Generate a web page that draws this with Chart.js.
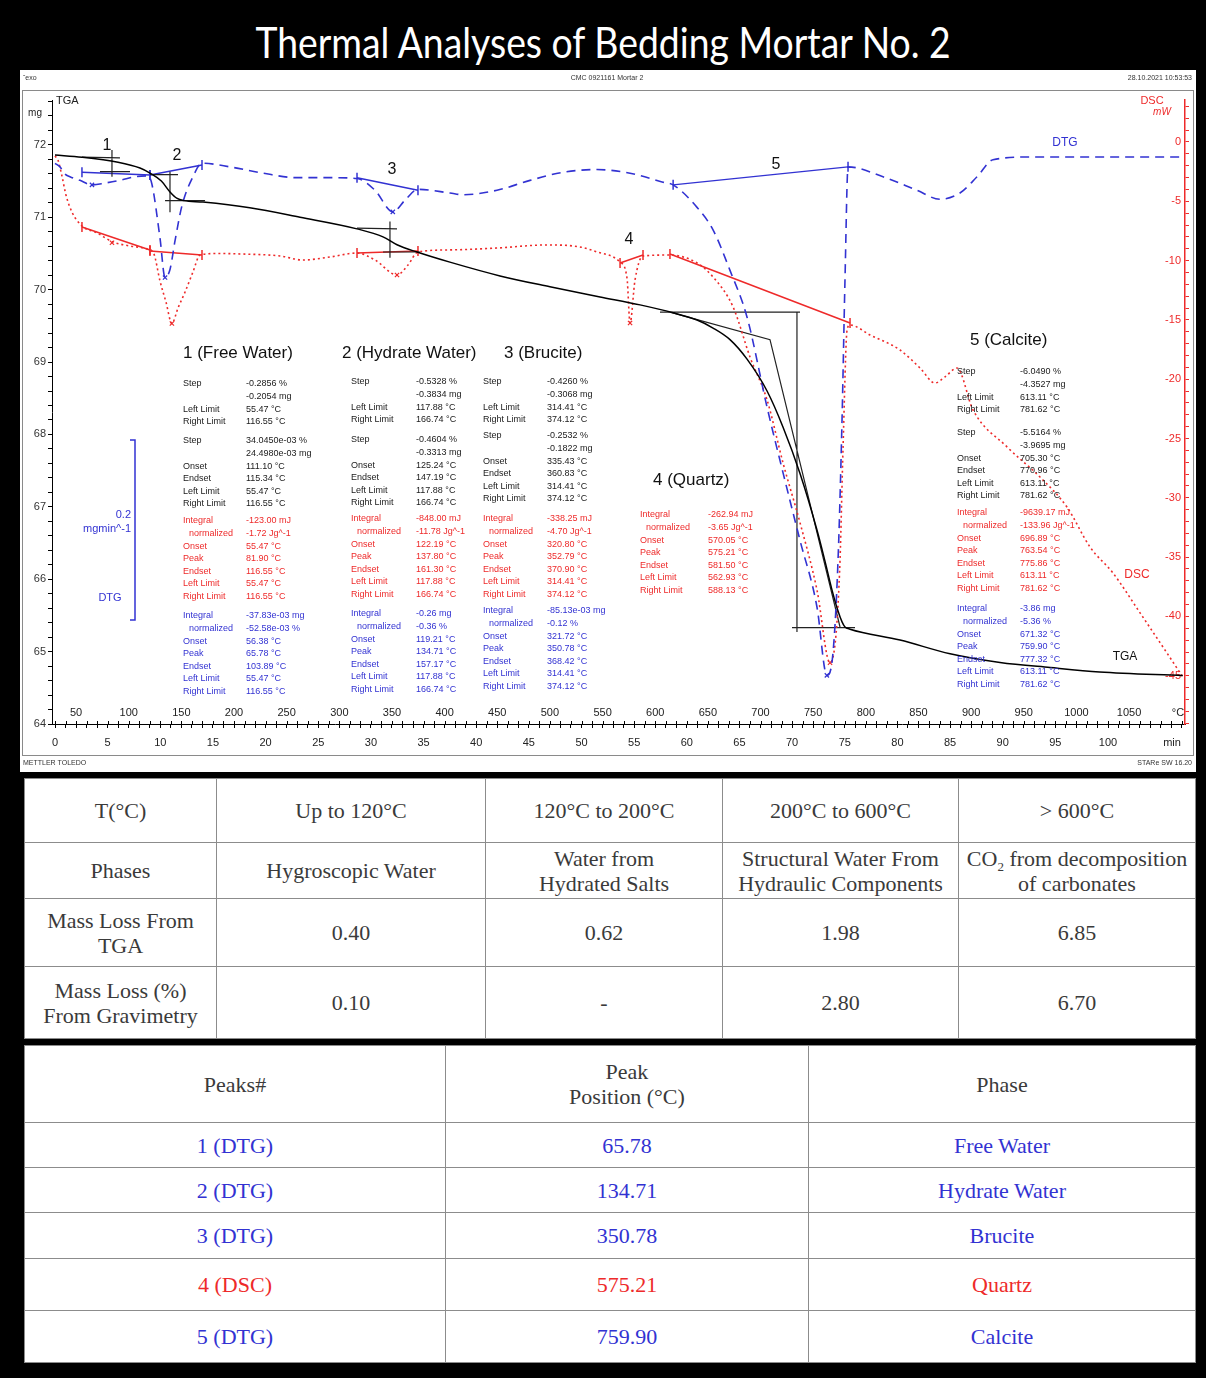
<!DOCTYPE html>
<html>
<head>
<meta charset="utf-8">
<title>Thermal Analyses of Bedding Mortar No. 2</title>
<script src="https://cdn.jsdelivr.net/npm/chart.js@4.4.1/dist/chart.umd.min.js"></script>
<style>
html, body { margin: 0; padding: 0; background: #000; }
body { width: 1206px; height: 1378px; position: relative; overflow: hidden; }
#title { position: absolute; left: 0; top: 21px; width: 1206px; text-align: center; color: #fff;
         font: 42px/42px Lato, sans-serif; white-space: nowrap; }
#title span { display: inline-block; transform-origin: 50% 50%; }
#panel { position: absolute; left: 20px; top: 70px; width: 1176px; height: 702px; background: #fff; }
table { position: absolute; left: 24px; width: 1171px; border-collapse: collapse; table-layout: fixed;
        background: #fff; font-family: "Liberation Serif", serif; font-size: 22px; color: #3a3a3a; }
td { border: 1px solid #8c8c8c; text-align: center; vertical-align: middle; padding: 0; line-height: 25px; }
td sub { font-size: 13px; line-height: 0; }
#ranges { top: 778px; height: 260px; }
#ranges tr:first-child td { background: #d6d6d6; }
#peaks { top: 1045px; height: 317px; }
</style>
</head>
<body>
<div id="title"><span>Thermal Analyses of Bedding Mortar No. 2</span></div>
<div id="panel"><canvas id="thermo"></canvas></div>
<table id="ranges"></table>
<table id="peaks"></table>
<script>
// ---- curves, x in degrees C (10 K/min from 30 C) ----
const tgaTemp = [30, 55.6, 89.8, 110.7, 120.2, 131, 139.2, 146, 152.5, 170.5, 215, 262.7, 316.8, 341.5,
  354.8, 373.8, 405, 452.6, 500, 547.6, 585.6, 617, 639.7, 654.9, 671, 687.2, 706.2, 721.4, 737.5,
  753.6, 761.2, 767.9, 773.6, 777.4, 780.2, 785, 832.5, 880, 927.4, 975, 1022, 1101];
const tgaMass = [71.86, 71.83, 71.76, 71.68, 71.61, 71.5, 71.35, 71.26, 71.23, 71.21, 71.13, 71.0, 70.84, 70.73,
  70.62, 70.52, 70.38, 70.19, 70.04, 69.9, 69.79, 69.68, 69.58, 69.47, 69.31, 69.04, 68.6, 68.1, 67.46,
  66.68, 66.25, 65.85, 65.56, 65.41, 65.34, 65.31, 65.16, 64.97, 64.85, 64.78, 64.72, 64.67];

const dtgTemp = [30, 34.7, 39.5, 44.2, 53.7, 65.1, 77.5, 91.7, 106, 118.3, 122, 129.7, 134.5, 139.2, 144,
  150.6, 161, 169.6, 196.2, 227.5, 259.8, 291.2, 316.8, 333.9, 350.8, 362.4, 374.7, 405, 417.5, 449.7,
  481.1, 512.4, 544.7, 576.1, 607.4, 617, 639.7, 654.9, 671, 687.2, 706.2, 721.4, 737.5, 753.6, 763,
  768, 773.6, 777.4, 780.2, 783.1, 816.3, 848.6, 870.4, 889.4, 905.6, 920.8, 958.8, 1053.7, 1101];
const dtgRate = [-0.007, -0.011, -0.019, -0.022, -0.026, -0.031, -0.029, -0.026, -0.022, -0.021, -0.03, -0.09,
  -0.134, -0.125, -0.093, -0.054, -0.022, -0.007, -0.011, -0.018, -0.023, -0.023, -0.024, -0.037, -0.061,
  -0.048, -0.036, -0.04, -0.042, -0.037, -0.026, -0.017, -0.014, -0.018, -0.028, -0.031, -0.056, -0.081,
  -0.126, -0.178, -0.278, -0.351, -0.426, -0.5, -0.576, -0.56, -0.448, -0.292, -0.137, -0.011, -0.022,
  -0.037, -0.047, -0.04, -0.022, -0.003, 0, 0, 0];

const dscTemp = [30, 32.8, 36.6, 40.4, 46.1, 55.6, 69.9, 85, 101, 117.4, 123.9, 129.7, 135.4, 141, 146.8,
  153.5, 161, 167.7, 185, 205.7, 243.7, 265.5, 291, 316.8, 333.9, 354.8, 365.2, 374.7, 405, 449.7, 497.2,
  528.6, 544.7, 566.6, 573.2, 576.1, 580.8, 588.4, 614, 639.7, 654.9, 673.9, 690, 706.2, 721.4, 737.5,
  753.6, 766, 771.7, 775.5, 778.3, 782.2, 785, 804, 832.5, 851.5, 865.7, 875.2, 886.6, 901.8, 934, 965.4,
  991, 1012.9, 1034.7, 1060.4, 1086, 1101];
const dscFlow = [-1.18, -1.52, -2.87, -4.47, -5.9, -7.08, -7.67, -8.43, -8.77, -9.02, -9.44, -11.72, -13.5,
  -15.3, -14.0, -12.65, -10.96, -9.53, -9.4, -9.44, -9.61, -9.95, -9.7, -9.36, -9.95, -11.21, -10.37,
  -9.27, -9.1, -8.94, -8.68, -8.85, -9.27, -10.12, -11.47, -15.26, -11.64, -9.61, -9.53, -10.2, -11.38,
  -13.9, -18.13, -21.75, -27.07, -32.1, -37.77, -43.9, -41.5, -35.24, -25.97, -15.85, -15.43, -16.27,
  -17.54, -19.06, -20.32, -19.8, -19.06, -22.6, -25.7, -28.25, -30.78, -34.15, -36.34, -39.7, -43.09, -45.1];

// ---- evaluation constructions: segments of [degC, value] ----
const tgaSteps = [
  [[55.6, 71.83], [91.7, 71.82]], [[84.1, 71.93], [84.1, 71.56]], [[72.7, 71.63], [101.2, 71.63]],
  [[120.2, 71.59], [146.8, 71.59]], [[139.2, 71.63], [139.2, 71.07]], [[134.5, 71.23], [172.5, 71.23]],
  [[316.8, 70.85], [354.8, 70.84]], [[348.1, 70.94], [348.1, 70.44]], [[341.5, 70.52], [376.6, 70.52]],
  [[604.5, 69.69], [737.5, 69.69]], [[734.6, 69.69], [734.6, 65.27]], [[729.9, 65.33], [789.7, 65.33]],
  [[614, 69.69], [709, 69.31], [775.5, 65.34]]
];
const dtgBaselines = [
  [[55.6, -0.017], [120.2, -0.02]], [[120.2, -0.02], [169.6, -0.009]],
  [[316.8, -0.023], [374.7, -0.037]], [[617, -0.031], [783.1, -0.011]]
];
const dscBaselines = [
  [[55.6, -7.17], [120.2, -9.11]], [[120.2, -9.19], [169.6, -9.53]], [[316.8, -9.36], [374.7, -9.19]],
  [[566.6, -10.2], [588.4, -9.53]], [[614, -9.44], [785, -15.26]]
];
const dtgPeaks = [[65.1, -0.031], [134.5, -0.134], [350.8, -0.061], [763, -0.576]];
const dscPeaks = [[84.1, -8.5], [141, -15.3], [354.8, -11.21], [576.1, -15.26], [766, -43.9]];

// ---- axis labels ----
const tempLabels = [50, 100, 150, 200, 250, 300, 350, 400, 450, 500, 550, 600, 650, 700, 750, 800, 850,
  900, 950, 1000, 1050];

// ---- evaluation result blocks ----
const evalBlocks = [
  { title: '1 (Free Water)', groups: [
    ['k', [['Step', '-0.2856 %'], ['', '-0.2054 mg'], ['Left Limit', '55.47 °C'], ['Right Limit', '116.55 °C']]],
    ['k', [['Step', '34.0450e-03 %'], ['', '24.4980e-03 mg'], ['Onset', '111.10 °C'], ['Endset', '115.34 °C'], ['Left Limit', '55.47 °C'], ['Right Limit', '116.55 °C']]],
    ['r', [['Integral', '-123.00 mJ'], [' normalized', '-1.72 Jg^-1'], ['Onset', '55.47 °C'], ['Peak', '81.90 °C'], ['Endset', '116.55 °C'], ['Left Limit', '55.47 °C'], ['Right Limit', '116.55 °C']]],
    ['b', [['Integral', '-37.83e-03 mg'], [' normalized', '-52.58e-03 %'], ['Onset', '56.38 °C'], ['Peak', '65.78 °C'], ['Endset', '103.89 °C'], ['Left Limit', '55.47 °C'], ['Right Limit', '116.55 °C']]]
  ]},
  { title: '2 (Hydrate Water)', groups: [
    ['k', [['Step', '-0.5328 %'], ['', '-0.3834 mg'], ['Left Limit', '117.88 °C'], ['Right Limit', '166.74 °C']]],
    ['k', [['Step', '-0.4604 %'], ['', '-0.3313 mg'], ['Onset', '125.24 °C'], ['Endset', '147.19 °C'], ['Left Limit', '117.88 °C'], ['Right Limit', '166.74 °C']]],
    ['r', [['Integral', '-848.00 mJ'], [' normalized', '-11.78 Jg^-1'], ['Onset', '122.19 °C'], ['Peak', '137.80 °C'], ['Endset', '161.30 °C'], ['Left Limit', '117.88 °C'], ['Right Limit', '166.74 °C']]],
    ['b', [['Integral', '-0.26 mg'], [' normalized', '-0.36 %'], ['Onset', '119.21 °C'], ['Peak', '134.71 °C'], ['Endset', '157.17 °C'], ['Left Limit', '117.88 °C'], ['Right Limit', '166.74 °C']]]
  ]},
  { title: '3 (Brucite)', groups: [
    ['k', [['Step', '-0.4260 %'], ['', '-0.3068 mg'], ['Left Limit', '314.41 °C'], ['Right Limit', '374.12 °C']]],
    ['k', [['Step', '-0.2532 %'], ['', '-0.1822 mg'], ['Onset', '335.43 °C'], ['Endset', '360.83 °C'], ['Left Limit', '314.41 °C'], ['Right Limit', '374.12 °C']]],
    ['r', [['Integral', '-338.25 mJ'], [' normalized', '-4.70 Jg^-1'], ['Onset', '320.80 °C'], ['Peak', '352.79 °C'], ['Endset', '370.90 °C'], ['Left Limit', '314.41 °C'], ['Right Limit', '374.12 °C']]],
    ['b', [['Integral', '-85.13e-03 mg'], [' normalized', '-0.12 %'], ['Onset', '321.72 °C'], ['Peak', '350.78 °C'], ['Endset', '368.42 °C'], ['Left Limit', '314.41 °C'], ['Right Limit', '374.12 °C']]]
  ]},
  { title: '4 (Quartz)', groups: [
    ['r', [['Integral', '-262.94 mJ'], [' normalized', '-3.65 Jg^-1'], ['Onset', '570.05 °C'], ['Peak', '575.21 °C'], ['Endset', '581.50 °C'], ['Left Limit', '562.93 °C'], ['Right Limit', '588.13 °C']]]
  ]},
  { title: '5 (Calcite)', groups: [
    ['k', [['Step', '-6.0490 %'], ['', '-4.3527 mg'], ['Left Limit', '613.11 °C'], ['Right Limit', '781.62 °C']]],
    ['k', [['Step', '-5.5164 %'], ['', '-3.9695 mg'], ['Onset', '705.30 °C'], ['Endset', '770.96 °C'], ['Left Limit', '613.11 °C'], ['Right Limit', '781.62 °C']]],
    ['r', [['Integral', '-9639.17 mJ'], [' normalized', '-133.96 Jg^-1'], ['Onset', '696.89 °C'], ['Peak', '763.54 °C'], ['Endset', '775.86 °C'], ['Left Limit', '613.11 °C'], ['Right Limit', '781.62 °C']]],
    ['b', [['Integral', '-3.86 mg'], [' normalized', '-5.36 %'], ['Onset', '671.32 °C'], ['Peak', '759.90 °C'], ['Endset', '777.32 °C'], ['Left Limit', '613.11 °C'], ['Right Limit', '781.62 °C']]]
  ]}
];
// where each block sits on the canvas: title x/y, label col, value col, first row y of each group
const blockPos = [
  { tx: 163, ty: 283, lx: 163, vx: 226, gy: [314, 371, 451, 546] },
  { tx: 322, ty: 283, lx: 331, vx: 396, gy: [312, 370, 449, 544] },
  { tx: 484, ty: 283, lx: 463, vx: 527, gy: [312, 366, 449, 541] },
  { tx: 633, ty: 410, lx: 620, vx: 688, gy: [445] },
  { tx: 950, ty: 270, lx: 937, vx: 1000, gy: [302, 363, 443, 539] }
];
const peakNumbers = ['1', '2', '3', '4', '5'];
const peakNumberPos = [[87, 76], [157, 86], [372, 100], [609, 170], [756, 95]];

// ---- tables ----
const rangeHeads = ['T(°C)', 'Up to 120°C', '120°C to 200°C', '200°C to 600°C', '&gt; 600°C'];
const rangePhases = ['Phases', 'Hygroscopic Water', 'Water from<br>Hydrated Salts',
  'Structural Water From<br>Hydraulic Components', 'CO<sub>2</sub> from decomposition<br>of carbonates'];
const tgaLoss = ['0.40', '0.62', '1.98', '6.85'];
const gravLoss = ['0.10', '-', '2.80', '6.70'];
const peakIds = ['1 (DTG)', '2 (DTG)', '3 (DTG)', '4 (DSC)', '5 (DTG)'];
const peakTemps = ['65.78', '134.71', '350.78', '575.21', '759.90'];
const peakPhases = ['Free Water', 'Hydrate Water', 'Brucite', 'Quartz', 'Calcite'];

const BLUE = '#3232d2';
const RED = '#ee2a2a';
const INK = { k: '#1a1a1a', r: RED, b: BLUE };

const pts = (xs, ys) => xs.map((x, i) => ({ x: x, y: ys[i] }));
function segs(list) {
  const out = [];
  list.forEach(s => {
    s.forEach(p => out.push({ x: p[0], y: p[1] }));
    out.push({ x: s[s.length - 1][0], y: null });
  });
  return out;
}
const pairs = list => list.map(p => ({ x: p[0], y: p[1] }));

const decor = {
  id: 'decor',
  afterDraw(chart) {
    const ctx = chart.ctx;
    const { x, yd } = chart.scales;
    const area = chart.chartArea;
    ctx.save();
    ctx.textBaseline = 'middle';

    // frame and header / footer
    ctx.strokeStyle = '#8a8a8a';
    ctx.lineWidth = 1;
    ctx.strokeRect(2.5, 20.5, 1171, 665);
    ctx.font = '7px "Liberation Sans"';
    ctx.fillStyle = '#333';
    ctx.textAlign = 'left';
    ctx.fillText('\u02c6exo', 3, 8);
    ctx.fillText('METTLER TOLEDO', 3, 693);
    ctx.textAlign = 'center';
    ctx.fillText('CMC 0921161 Mortar 2', 587, 8);
    ctx.textAlign = 'right';
    ctx.fillText('28.10.2021 10:53:53', 1172, 8);
    ctx.fillText('STARe SW 16.20', 1172, 693);

    // temperature scale on top of the time axis
    ctx.strokeStyle = '#000';
    ctx.beginPath();
    for (let t = 30; t <= 1100; t += 10) {
      const px = Math.round(x.getPixelForValue(t)) + 0.5;
      ctx.moveTo(px, area.bottom - 3);
      ctx.lineTo(px, area.bottom);
    }
    ctx.stroke();
    ctx.font = '11px "Liberation Sans"';
    ctx.fillStyle = '#222';
    ctx.textAlign = 'center';
    tempLabels.forEach(t => ctx.fillText(String(t), x.getPixelForValue(t), area.bottom - 11));
    ctx.fillText('°C', 1158, area.bottom - 11);
    ctx.fillText('min', 1152, area.bottom + 19);

    // axis captions
    ctx.textAlign = 'left';
    ctx.fillText('TGA', 36, 31);
    ctx.font = '10px "Liberation Sans"';
    ctx.textAlign = 'center';
    ctx.fillText('mg', 15, 43);
    ctx.fillStyle = RED;
    ctx.font = '11px "Liberation Sans"';
    ctx.fillText('DSC', 1132, 31);
    ctx.font = 'italic 10px "Liberation Sans"';
    ctx.fillText('mW', 1142, 42);

    // curve names
    ctx.font = '12px "Liberation Sans"';
    ctx.fillStyle = BLUE;
    ctx.fillText('DTG', 1045, 73);
    ctx.fillStyle = RED;
    ctx.fillText('DSC', 1117, 505);
    ctx.fillStyle = '#111';
    ctx.fillText('TGA', 1105, 587);

    // DTG scale bar, 0.2 mg/min long
    const barTop = 370;
    const barLen = yd.getPixelForValue(-0.2) - yd.getPixelForValue(0);
    ctx.strokeStyle = BLUE;
    ctx.lineWidth = 1.5;
    ctx.beginPath();
    ctx.moveTo(110, barTop);
    ctx.lineTo(115, barTop);
    ctx.lineTo(115, barTop + barLen);
    ctx.lineTo(110, barTop + barLen);
    ctx.stroke();
    ctx.fillStyle = BLUE;
    ctx.font = '11px "Liberation Sans"';
    ctx.textAlign = 'right';
    ctx.fillText('0.2', 111, 445);
    ctx.fillText('mgmin^-1', 111, 459);
    ctx.textAlign = 'center';
    ctx.fillText('DTG', 90, 528);

    // peak numbers
    ctx.fillStyle = '#111';
    ctx.font = '16px "Liberation Sans"';
    peakNumbers.forEach((n, i) => ctx.fillText(n, peakNumberPos[i][0], peakNumberPos[i][1]));

    // evaluation blocks
    evalBlocks.forEach((b, i) => {
      const p = blockPos[i];
      ctx.textAlign = 'left';
      ctx.fillStyle = '#111';
      ctx.font = '17px "Liberation Sans"';
      ctx.fillText(b.title, p.tx, p.ty);
      ctx.font = '9px "Liberation Sans"';
      b.groups.forEach((g, j) => {
        ctx.fillStyle = INK[g[0]];
        g[1].forEach((row, k) => {
          const yy = p.gy[j] + k * 12.6;
          const indent = row[0].startsWith(' ') ? 6 : 0;
          ctx.fillText(row[0].trim(), p.lx + indent, yy);
          ctx.fillText(row[1], p.vx, yy);
        });
      });
    });
    ctx.restore();
  }
};

Chart.defaults.font.family = '"Liberation Sans", Arial, sans-serif';

new Chart(document.getElementById('thermo'), {
  type: 'line',
  data: {
    datasets: [
      { label: 'TGA', data: pts(tgaTemp, tgaMass), yAxisID: 'y', borderColor: '#000', borderWidth: 1.5,
        pointRadius: 0, cubicInterpolationMode: 'monotone' },
      { label: 'DTG', data: pts(dtgTemp, dtgRate), yAxisID: 'yd', borderColor: BLUE, borderWidth: 1.6,
        borderDash: [9, 6], pointRadius: 0, cubicInterpolationMode: 'monotone' },
      { label: 'DSC', data: pts(dscTemp, dscFlow), yAxisID: 'y2', borderColor: RED, borderWidth: 1.6,
        borderDash: [2, 3], pointRadius: 0, cubicInterpolationMode: 'monotone' },
      { label: 'TGA steps', data: segs(tgaSteps), yAxisID: 'y', borderColor: '#222', borderWidth: 1.2,
        pointRadius: 0, spanGaps: false },
      { label: 'DTG baselines', data: segs(dtgBaselines), yAxisID: 'yd', borderColor: BLUE, borderWidth: 1.5,
        pointStyle: 'line', rotation: 90, pointRadius: 5, pointBorderColor: BLUE, pointBorderWidth: 1.5, spanGaps: false },
      { label: 'DSC baselines', data: segs(dscBaselines), yAxisID: 'y2', borderColor: RED, borderWidth: 1.5,
        pointStyle: 'line', rotation: 90, pointRadius: 5, pointBorderColor: RED, pointBorderWidth: 1.5, spanGaps: false },
      { label: 'DTG peaks', data: pairs(dtgPeaks), yAxisID: 'yd', showLine: false, pointStyle: 'crossRot',
        pointRadius: 3, pointBorderColor: BLUE, pointBorderWidth: 1.2 },
      { label: 'DSC peaks', data: pairs(dscPeaks), yAxisID: 'y2', showLine: false, pointStyle: 'crossRot',
        pointRadius: 3, pointBorderColor: RED, pointBorderWidth: 1.2 }
    ]
  },
  options: {
    responsive: true,
    maintainAspectRatio: false,
    animation: false,
    events: [],
    layout: { padding: { top: 30, left: 0, right: 0, bottom: 0 } },
    plugins: { legend: { display: false }, tooltip: { enabled: false } },
    scales: {
      x: {
        type: 'linear', position: 'bottom', min: 27.15, max: 1103.1,
        afterBuildTicks: s => { s.ticks = []; for (let m = 0; m <= 107; m++) s.ticks.push({ value: 30 + 10 * m }); },
        afterFit: s => { s.height = 48; },
        ticks: { autoSkip: false, maxRotation: 0, padding: 8, color: '#222', font: { size: 11 },
          callback: v => { const m = Math.round((v - 30) / 10); return m % 5 === 0 && m <= 100 ? String(m) : ''; } },
        grid: { drawOnChartArea: false, tickLength: 4, color: '#000' },
        border: { color: '#000' }
      },
      y: {
        position: 'left', min: 64, max: 72.62,
        afterFit: s => { s.width = 32; },
        ticks: { stepSize: 0.2, includeBounds: false, autoSkip: false, padding: 2, color: '#333', font: { size: 11 },
          callback: v => Math.abs(v - Math.round(v)) < 1e-6 ? String(Math.round(v)) : '' },
        grid: { drawOnChartArea: false, tickLength: 4, color: '#000' },
        border: { color: '#000' }
      },
      y2: {
        position: 'right', min: -49.07, max: 3.54,
        afterFit: s => { s.width = 11; },
        ticks: { stepSize: 1, includeBounds: false, autoSkip: false, mirror: true, padding: -4, color: RED,
          font: { size: 11 },
          callback: v => Math.abs(v % 5) < 1e-6 && v <= 0 ? String(Math.round(v)) : '' },
        grid: { drawOnChartArea: false, tickLength: 4, color: RED },
        border: { color: RED, width: 1.5 }
      },
      yd: { display: false, min: -0.63, max: 0.0633 }
    }
  },
  plugins: [decor]
});

// ---- tables ----
function fillTable(id, widths, rows) {
  const tb = document.getElementById(id);
  const cg = document.createElement('colgroup');
  widths.forEach(w => { const c = document.createElement('col'); c.style.width = w + 'px'; cg.appendChild(c); });
  tb.appendChild(cg);
  rows.forEach(r => {
    const tr = document.createElement('tr');
    tr.style.height = r.h + 'px';
    r.cells.forEach(c => {
      const td = document.createElement('td');
      td.innerHTML = c;
      if (r.color) td.style.color = r.color;
      tr.appendChild(td);
    });
    tb.appendChild(tr);
  });
}
fillTable('ranges', [192, 269, 237, 236, 237], [
  { h: 64, cells: rangeHeads },
  { h: 56, cells: rangePhases },
  { h: 68, cells: ['Mass Loss From<br>TGA'].concat(tgaLoss) },
  { h: 72, cells: ['Mass Loss (%)<br>From Gravimetry'].concat(gravLoss) }
]);
const peakRowH = [45, 45, 46, 52, 52];
fillTable('peaks', [421, 363, 387], [{ h: 77, cells: ['Peaks#', 'Peak<br>Position (°C)', 'Phase'] }].concat(
  peakIds.map((p, i) => ({ h: peakRowH[i], color: p.indexOf('DSC') >= 0 ? RED : BLUE,
    cells: [p, peakTemps[i], peakPhases[i]] }))));

// fit the title to the width it has in the original
const ts = document.querySelector('#title span');
ts.style.transform = 'scaleX(' + (695 / ts.getBoundingClientRect().width).toFixed(3) + ')';
</script>
</body>
</html>
